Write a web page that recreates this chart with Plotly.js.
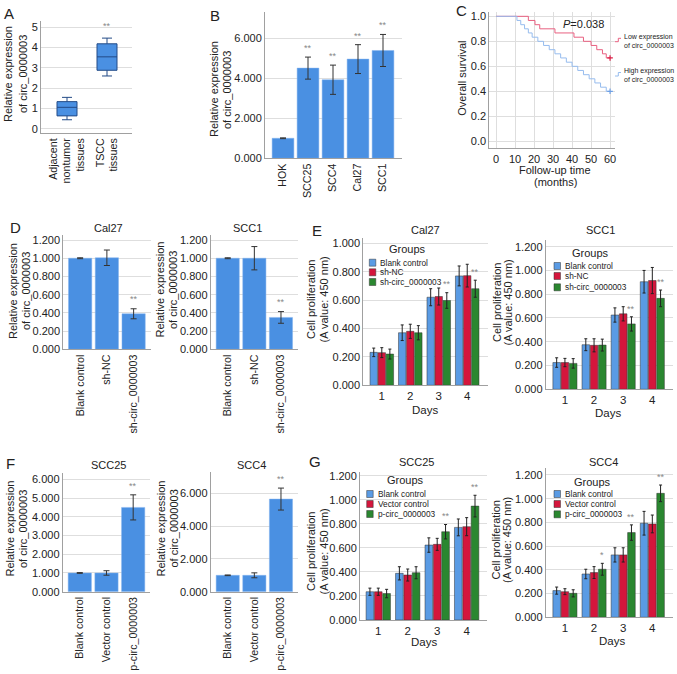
<!DOCTYPE html>
<html>
<head>
<meta charset="utf-8">
<script src="https://cdn.plot.ly/plotly-3.0.1.min.js"></script>
<style>
  html, body { margin: 0; padding: 0; background: #fff; }
  #chart { width: 677px; height: 674px; }
</style>
</head>
<body>
<div id="chart"></div>
<script>
const W = 677, H = 674;
const FONT = "Liberation Sans, Arial, sans-serif";
const barBlue = "rgb(74,144,226)";
const grpColors = ["rgb(90,155,228)", "rgb(212,22,60)", "rgb(42,135,48)"];
const gridCol = "rgb(222,222,222)";
const lineCol = "rgb(160,160,160)";

// ---- A: box plot ----
const aCats = ["Adjacent<br>nontumor<br>tissues", "TSCC<br>tissues"];
const aLower = [0.45, 2.6];
const aQ1 = [0.64, 2.88];
const aMedian = [1.06, 3.54];
const aQ3 = [1.34, 4.18];
const aUpper = [1.55, 4.46];

// ---- B: cell lines ----
const bCats = ["HOK", "SCC25", "SCC4", "Cal27", "SCC1"];
const bMeans = [1.0, 4.5, 3.92, 4.95, 5.38];
const bErr = [0.02, 0.55, 0.73, 0.72, 0.8];

// ---- C: survival ----
const lowTime = [0, 17, 20.5, 23, 31, 41, 46, 50, 53, 56, 58, 60];
const lowSurv = [1, 0.967, 0.933, 0.9, 0.867, 0.833, 0.8, 0.767, 0.733, 0.7, 0.667, 0.667];
const highTime = [0, 11, 13, 15, 17, 19, 22, 25, 28, 31, 34, 37, 40, 43, 46, 49, 52, 55, 58, 60];
const highSurv = [1, 0.967, 0.933, 0.9, 0.867, 0.833, 0.8, 0.767, 0.733, 0.7, 0.667, 0.633, 0.6, 0.567, 0.533, 0.5, 0.467, 0.433, 0.4, 0.4];

// ---- D: knockdown ----
const dCats = ["Blank control", "sh-NC", "sh-circ_0000003"];
const dCal27 = [1.0, 1.005, 0.39];
const dCal27Err = [0.005, 0.085, 0.055];
const dScc1 = [1.0, 1.0, 0.35];
const dScc1Err = [0.005, 0.128, 0.064];

// ---- E: proliferation, knockdown ----
const days = [1, 2, 3, 4];
const eGroups = ["Blank control", "sh-NC", "sh-circ_0000003"];
const eCal27Blank = [0.232, 0.37, 0.62, 0.77];
const eCal27BlankErr = [0.03, 0.055, 0.06, 0.07];
const eCal27NC = [0.23, 0.38, 0.625, 0.772];
const eCal27NCErr = [0.035, 0.05, 0.06, 0.08];
const eCal27Sh = [0.22, 0.37, 0.597, 0.68];
const eCal27ShErr = [0.035, 0.05, 0.055, 0.06];
const eScc1Blank = [0.225, 0.375, 0.625, 0.905];
const eScc1BlankErr = [0.04, 0.05, 0.06, 0.095];
const eScc1NC = [0.225, 0.37, 0.635, 0.915];
const eScc1NCErr = [0.035, 0.055, 0.06, 0.11];
const eScc1Sh = [0.218, 0.372, 0.55, 0.765];
const eScc1ShErr = [0.04, 0.05, 0.06, 0.07];

// ---- F: overexpression ----
const fCats = ["Blank control", "Vector control", "p-circ_0000003"];
const fScc25 = [1.0, 1.0, 4.5];
const fScc25Err = [0.02, 0.12, 0.67];
const fScc4 = [1.0, 1.0, 5.65];
const fScc4Err = [0.02, 0.15, 0.67];

// ---- G: proliferation, overexpression ----
const gGroups = ["Blank control", "Vector control", "p-circ_0000003"];
const gScc25Blank = [0.235, 0.388, 0.623, 0.77];
const gScc25BlankErr = [0.03, 0.055, 0.06, 0.07];
const gScc25Vec = [0.235, 0.374, 0.629, 0.776];
const gScc25VecErr = [0.03, 0.05, 0.05, 0.075];
const gScc25P = [0.22, 0.393, 0.734, 0.947];
const gScc25PErr = [0.035, 0.05, 0.06, 0.09];
const gScc4Blank = [0.225, 0.365, 0.526, 0.793];
const gScc4BlankErr = [0.03, 0.04, 0.06, 0.1];
const gScc4Vec = [0.216, 0.377, 0.526, 0.787];
const gScc4VecErr = [0.025, 0.05, 0.06, 0.075];
const gScc4P = [0.202, 0.405, 0.714, 1.045];
const gScc4PErr = [0.03, 0.05, 0.065, 0.07];

function px(x) { return x / W; }
function py(y) { return 1 - y / H; }
function sid(n) { return n === 1 ? "" : String(n); }

const data = [];
const annotations = [];
const shapes = [];
const layout = {
  width: W, height: H,
  margin: { l: 0, r: 0, t: 0, b: 0 },
  paper_bgcolor: "#fff", plot_bgcolor: "#fff",
  font: { family: FONT, color: "#222", size: 11 },
  barmode: "group", bargap: 0.15, bargroupgap: 0.08,
  showlegend: false,
  annotations, shapes,
};

function yAxis(n, top, bottom, range, dtick, fmt) {
  layout["yaxis" + sid(n)] = {
    domain: [py(bottom), py(top)], range, dtick, tickformat: fmt,
    anchor: "x" + sid(n), showline: true, linecolor: lineCol, linewidth: 1,
    showgrid: true, gridcolor: gridCol, zeroline: false, ticks: "",
    tickfont: { size: 11, color: "#222" }, fixedrange: true,
  };
}
function xAxis(n, left, right, range, extra) {
  layout["xaxis" + sid(n)] = Object.assign({
    domain: [px(left), px(right)], range,
    anchor: "y" + sid(n), showline: true, linecolor: lineCol, linewidth: 1,
    showgrid: false, zeroline: false, ticks: "",
    tickfont: { size: 10.7, color: "#222" }, fixedrange: true,
  }, extra);
}

function txt(x, y, text, size, extra) {
  annotations.push(Object.assign({
    xref: "paper", yref: "paper", x: px(x), y: py(y), text,
    showarrow: false, font: { size, color: "#222", family: FONT },
    xanchor: "center", yanchor: "middle",
  }, extra));
}
// two-line rotated axis title, one annotation per line
function vtxt(x1, x2, y, line1, line2) {
  txt(x1, y, line1, 11, { textangle: -90 });
  txt(x2, y, line2, 11, { textangle: -90 });
}

function star(n, x, y, text) {
  annotations.push({
    xref: "x" + sid(n), yref: "y" + sid(n), x, y, text: text || "**",
    showarrow: false, yanchor: "bottom", yshift: 0,
    font: { size: 9, color: "#888", family: FONT },
  });
}

function barTrace(n, cats, means, errs) {
  data.push({
    type: "bar", x: cats, y: means, xaxis: "x" + sid(n), yaxis: "y" + sid(n),
    width: 0.87, marker: { color: barBlue, line: { color: "rgb(130,178,238)", width: 0.5 } },
    error_y: { type: "data", array: errs, color: "#333", thickness: 1, width: 3 },
    hoverinfo: "skip",
  });
}

function groupTraces(n, series) {
  series.forEach((s, i) => {
    data.push({
      type: "bar", x: days, y: s[0], xaxis: "x" + sid(n), yaxis: "y" + sid(n),
      marker: { color: grpColors[i], line: { color: "#333", width: 0.5 } },
      error_y: { type: "data", array: s[1], color: "#222", thickness: 1, width: 1.5 },
      hoverinfo: "skip",
    });
  });
}

function groupLegend(titleX, titleY, sqX, itemY, labels) {
  txt(titleX, titleY, "Groups", 11);
  labels.forEach((lab, i) => {
    shapes.push({
      type: "rect", xref: "paper", yref: "paper",
      x0: px(sqX), x1: px(sqX + 6.5), y0: py(itemY[i] + 3.5), y1: py(itemY[i] - 3.5),
      fillcolor: grpColors[i], line: { color: "#333", width: 0.5 },
    });
    txt(sqX + 9, itemY[i], lab, 8.3, { xanchor: "left" });
  });
}

const REL1 = "Relative expression", REL2 = "of circ_0000003";
const CELL1 = "Cell proliferation", CELL2 = "(A value: 450 nm)";

// ===== A =====
data.push({
  type: "box", x: aCats, q1: aQ1, median: aMedian, q3: aQ3,
  lowerfence: aLower, upperfence: aUpper, xaxis: "x", yaxis: "y",
  width: 0.5, whiskerwidth: 0.5, boxpoints: false,
  fillcolor: barBlue, line: { color: "rgb(35,75,135)", width: 1 },
  hoverinfo: "skip",
});
xAxis(1, 41, 132, [-0.65, 1.625], { type: "category", tickangle: -90 });
yAxis(1, 21, 133, [-0.2, 5.3], 1, "d");
star(1, aCats[1], aUpper[1] + 0.25);
vtxt(8, 23, 74, REL1, REL2);
txt(9, 13, "A", 15);

// ===== B =====
barTrace(2, bCats, bMeans, bErr);
xAxis(2, 265, 402, [-0.72, 4.76], { type: "category", tickangle: -90 });
yAxis(2, 12, 158.3, [0, 7.3], 2, ".3f");
bCats.slice(1).forEach((c, i) => star(2, c, bMeans[i + 1] + bErr[i + 1] + 0.1));
vtxt(213.5, 226.5, 89.5, REL1, REL2);
txt(215, 15, "B", 15);

// ===== C =====
data.push({
  type: "scatter", mode: "lines", x: lowTime, y: lowSurv, xaxis: "x3", yaxis: "y3",
  line: { shape: "hv", color: "rgb(232,96,128)", width: 1 }, hoverinfo: "skip",
});
data.push({
  type: "scatter", mode: "lines", x: highTime, y: highSurv, xaxis: "x3", yaxis: "y3",
  line: { shape: "hv", color: "rgb(150,188,238)", width: 1 }, hoverinfo: "skip",
});
data.push({
  type: "scatter", mode: "markers", xaxis: "x3", yaxis: "y3",
  x: [lowTime[lowTime.length - 1], highTime[highTime.length - 1]],
  y: [lowSurv[lowSurv.length - 1], highSurv[highSurv.length - 1]],
  marker: { symbol: "cross-thin", size: 4, line: { width: 1.2, color: ["rgb(220,30,70)", "rgb(110,160,230)"] } },
  cliponaxis: false, hoverinfo: "skip",
});
xAxis(3, 489.3, 615, [-3.55, 62.6], { dtick: 10, showgrid: true, gridcolor: gridCol, tickfont: { size: 11, color: "#222" } });
yAxis(3, 11.7, 148.3, [-0.056, 1.037], 0.2, ".1f");
txt(583, 24, "<i>P</i>=0.038", 11);
txt(461.7, 78, "Overall survival", 11, { textangle: -90 });
txt(555, 169.5, "Follow-up time", 11);
txt(555, 182, "(months)", 11);
shapes.push({ type: "path", xref: "paper", yref: "paper",
  path: `M${px(615)},${py(41.7)} L${px(618.3)},${py(41.7)} L${px(618.3)},${py(38.3)} L${px(621)},${py(38.3)}`,
  line: { color: "rgb(232,96,128)", width: 1 } });
shapes.push({ type: "path", xref: "paper", yref: "paper",
  path: `M${px(615)},${py(76)} L${px(618.3)},${py(76)} L${px(618.3)},${py(72.5)} L${px(621)},${py(72.5)}`,
  line: { color: "rgb(150,188,238)", width: 1 } });
txt(621.5, 37, "Low expression", 7, { xanchor: "left" });
txt(621.5, 46, "of circ_0000003", 7, { xanchor: "left" });
txt(621.5, 71, "High expression", 7, { xanchor: "left" });
txt(621.5, 80, "of circ_0000003", 7, { xanchor: "left" });
txt(461, 11, "C", 15);

// ===== D =====
barTrace(4, dCats, dCal27, dCal27Err);
xAxis(4, 63.3, 151, [-0.63, 2.65], { type: "category", tickangle: -90 });
yAxis(4, 235, 349.3, [0, 1.255], 0.2, ".3f");
star(4, dCats[2], dCal27[2] + dCal27Err[2] + 0.03);
barTrace(5, dCats, dScc1, dScc1Err);
xAxis(5, 210.7, 298, [-0.64, 2.64], { type: "category", tickangle: -90 });
yAxis(5, 235, 349.3, [0, 1.255], 0.2, ".3f");
star(5, dCats[2], dScc1[2] + dScc1Err[2] + 0.03);
txt(108, 228, "Cal27", 11);
txt(248, 228, "SCC1", 11);
vtxt(12.5, 25.5, 291.5, REL1, REL2);
vtxt(159.5, 173, 290, REL1, REL2);
txt(15, 227, "D", 15);

// ===== E =====
const greenOff = (1 - 0.15) / 3;
groupTraces(6, [[eCal27Blank, eCal27BlankErr], [eCal27NC, eCal27NCErr], [eCal27Sh, eCal27ShErr]]);
xAxis(6, 363.3, 488, [0.35, 4.73], { dtick: 1, tickfont: { size: 11.5, color: "#222" } });
yAxis(6, 238, 385.3, [0, 1.037], 0.2, ".3f");
[2, 3].forEach(i => star(6, days[i] + greenOff, eCal27Sh[i] + eCal27ShErr[i] + 0.01));
groupTraces(7, [[eScc1Blank, eScc1BlankErr], [eScc1NC, eScc1NCErr], [eScc1Sh, eScc1ShErr]]);
xAxis(7, 545.7, 673, [0.34, 4.71], { dtick: 1, tickfont: { size: 11.5, color: "#222" } });
yAxis(7, 240, 389.3, [0, 1.256], 0.2, ".3f");
[2, 3].forEach(i => star(7, days[i] + greenOff, eScc1Sh[i] + eScc1ShErr[i] + 0.01));
groupLegend(407.7, 249.3, 369.3, [262.7, 272.3, 282], eGroups);
groupLegend(590, 253.3, 554, [266, 276, 287.3], eGroups);
txt(425, 230, "Cal27", 11);
txt(600, 230, "SCC1", 11);
txt(425, 410, "Days", 11.5);
txt(608.3, 413.5, "Days", 11.5);
vtxt(311, 323.5, 300, CELL1, CELL2);
vtxt(497, 507.5, 303, CELL1, CELL2);
txt(317, 230, "E", 15);

// ===== F =====
barTrace(8, fCats, fScc25, fScc25Err);
xAxis(8, 62.7, 150, [-0.64, 2.63], { type: "category", tickangle: -90 });
yAxis(8, 473.3, 591.7, [0, 6.32], 1, ".3f");
star(8, fCats[2], fScc25[2] + fScc25Err[2] + 0.1);
barTrace(9, fCats, fScc4, fScc4Err);
xAxis(9, 210.7, 298, [-0.64, 2.64], { type: "category", tickangle: -90 });
yAxis(9, 471.7, 591.7, [0, 7.32], 2, ".3f");
star(9, fCats[2], fScc4[2] + fScc4Err[2] + 0.1);
txt(108, 465, "SCC25", 11);
txt(251, 465, "SCC4", 11);
vtxt(9.5, 23, 529, REL1, REL2);
vtxt(160.5, 173.5, 529, REL1, REL2);
txt(11, 463, "F", 15);

// ===== G =====
groupTraces(10, [[gScc25Blank, gScc25BlankErr], [gScc25Vec, gScc25VecErr], [gScc25P, gScc25PErr]]);
xAxis(10, 360, 486.7, [0.38, 4.68], { dtick: 1, tickfont: { size: 11.5, color: "#222" } });
yAxis(10, 471.7, 620, [0, 1.233], 0.2, ".3f");
[2, 3].forEach(i => star(10, days[i] + greenOff, gScc25P[i] + gScc25PErr[i] + 0.01));
groupTraces(11, [[gScc4Blank, gScc4BlankErr], [gScc4Vec, gScc4VecErr], [gScc4P, gScc4PErr]]);
xAxis(11, 545.7, 673, [0.34, 4.71], { dtick: 1, tickfont: { size: 11.5, color: "#222" } });
yAxis(11, 468.3, 617.3, [0, 1.256], 0.2, ".3f");
star(11, days[1] + greenOff, gScc4P[1] + gScc4PErr[1] + 0.01, "*");
[2, 3].forEach(i => star(11, days[i] + greenOff, gScc4P[i] + gScc4PErr[i] + 0.01));
groupLegend(405, 480, 366.7, [494, 504, 514], gGroups);
groupLegend(592.7, 481.7, 554, [494, 504, 514.3], gGroups);
txt(416.7, 462.3, "SCC25", 11);
txt(603.3, 462.3, "SCC4", 11);
txt(424, 642, "Days", 11.5);
txt(611.7, 641, "Days", 11.5);
vtxt(311, 323.5, 552, CELL1, CELL2);
vtxt(495.5, 507, 540, CELL1, CELL2);
txt(315, 461, "G", 15);

Plotly.newPlot("chart", data, layout, { staticPlot: true, displayModeBar: false });
</script>
</body>
</html>
